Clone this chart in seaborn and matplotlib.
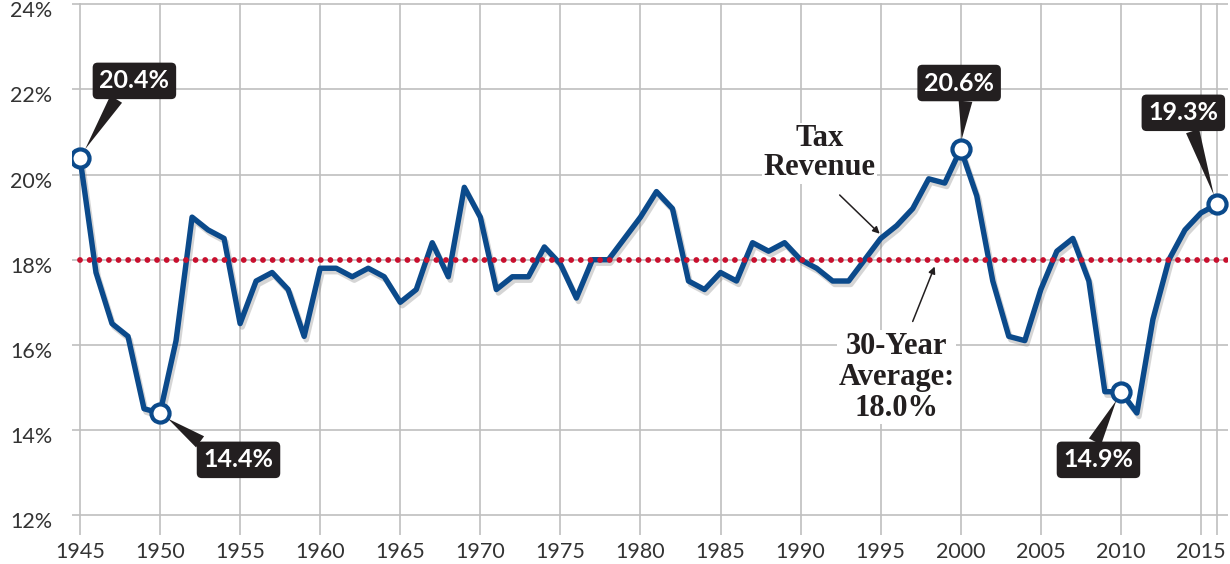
import matplotlib
matplotlib.use("Agg")
import matplotlib.pyplot as plt
import matplotlib.patheffects as pe
import matplotlib.transforms as mtransforms
import seaborn as sns
import pandas as pd

# Federal tax revenue as % of GDP
years = list(range(1945, 2017))
revenue = [20.4, 17.7, 16.5, 16.2, 14.5, 14.4, 16.1, 19.0, 18.7, 18.5,
           16.5, 17.5, 17.7, 17.3, 16.2, 17.8, 17.8, 17.6, 17.8, 17.6,
           17.0, 17.3, 18.4, 17.6, 19.7, 19.0, 17.3, 17.6, 17.6, 18.3,
           17.9, 17.1, 18.0, 18.0, 18.5, 19.0, 19.6, 19.2, 17.5, 17.3,
           17.7, 17.5, 18.4, 18.2, 18.4, 18.0, 17.8, 17.5, 17.5, 18.0,
           18.5, 18.8, 19.2, 19.9, 19.8, 20.6, 19.5, 17.5, 16.2, 16.1,
           17.3, 18.2, 18.5, 17.5, 14.9, 14.9, 14.4, 16.6, 18.0, 18.7,
           19.1, 19.3]
avg_30yr = 18.0
callout_years = [1945, 1950, 2000, 2010, 2016]
y_ticks = [12, 14, 16, 18, 20, 22, 24]
x_ticks = list(range(1945, 2016, 5))

# label box placement (data coords) and where the pointer leaves the box
callout_pos = [(1948.4, 22.2), (1954.9, 13.3), (1999.9, 22.15), (2008.6, 13.3), (2013.9, 21.45)]
callout_rel = [(0.3, 0.0), (0.08, 1.0), (0.6, 0.0), (0.4, 1.0), (0.6, 0.0)]

BLUE = "#0b4a8b"
RED = "#c8102e"
DARK = "#231f20"
GRID = "#bfbfbf"
TICK = "#333333"

sns.set_style("whitegrid")
plt.rcParams["font.family"] = ["Lato", "DejaVu Sans"]

df = pd.DataFrame({"year": years, "revenue": revenue})
lookup = dict(zip(years, revenue))
pts = pd.DataFrame({"year": callout_years, "revenue": [lookup[y] for y in callout_years]})

fig, ax = plt.subplots(figsize=(12.3, 5.64), dpi=100)
fig.subplots_adjust(left=0.0585, right=0.998, top=0.994, bottom=0.085)

xmin, xmax = 1944.5, 2016.66
ax.set_xlim(xmin, xmax)
ax.set_ylim(11.98, 24.02)

sns.lineplot(data=df, x="year", y="revenue", ax=ax, color=BLUE, lw=3.9, zorder=4,
             path_effects=[pe.SimpleLineShadow(offset=(1.5, -2.5), shadow_color="#777777", alpha=0.3),
                           pe.Normal()])

# 30-year average dotted line
ax.plot([years[0], xmax], [avg_30yr, avg_30yr], color=RED, lw=4.2,
        ls=(0, (0.001, 1.65)), dash_capstyle="round", zorder=5)

sns.scatterplot(data=pts, x="year", y="revenue", ax=ax, s=170, color="white",
                edgecolor=BLUE, linewidth=3.0, zorder=6)

for (yr, val), pos, rel in zip(pts.itertuples(index=False), callout_pos, callout_rel):
    ax.annotate(f"{val:.1f}%", xy=(yr, val), xytext=pos, ha="center", va="center",
                color="white", fontsize=18, fontweight="bold", zorder=7,
                bbox=dict(boxstyle="round,pad=0.27,rounding_size=0.2", fc=DARK, ec="none"),
                arrowprops=dict(arrowstyle="wedge,tail_width=0.55", fc=DARK, ec="none",
                                shrinkA=0, shrinkB=7, relpos=rel))

serif = ["Liberation Serif", "DejaVu Serif"]
ax.text(1991.2, 20.5, "Tax\nRevenue", family=serif, fontsize=22, fontweight="bold",
        ha="center", va="center", color=DARK, linespacing=1.02, zorder=3,
        bbox=dict(boxstyle="square,pad=0.05", fc="white", ec="none"))
ax.annotate("", xy=(1994.94, 18.61), xytext=(1992.44, 19.52),
            arrowprops=dict(arrowstyle="-|>", lw=1.1, color=DARK, mutation_scale=10,
                            shrinkA=0, shrinkB=0), zorder=3)

ax.text(1996.0, 15.24, f"30-Year\nAverage:\n{avg_30yr:.1f}%", family=serif, fontsize=22,
        fontweight="bold", ha="center", va="center", color=DARK, linespacing=1.1, zorder=3,
        bbox=dict(boxstyle="square,pad=0.05", fc="white", ec="none"))
ax.annotate("", xy=(1998.37, 17.84), xytext=(1997.0, 16.55),
            arrowprops=dict(arrowstyle="-|>", lw=1.1, color=DARK, mutation_scale=10,
                            shrinkA=0, shrinkB=0), zorder=3)

ax.set_xticks(x_ticks)
ax.set_xticks([2016], minor=True)
ax.set_yticks(y_ticks)
ax.set_yticklabels([f"{t}%" for t in y_ticks])
ax.grid(True, which="both", color=GRID, lw=1.2)
ax.set_axisbelow(True)
for s in ax.spines.values():
    s.set_visible(False)
ax.tick_params(axis="x", which="both", length=14, width=1.2, color=GRID, direction="out",
               pad=5, labelsize=15.5, labelcolor=TICK, bottom=True)
ax.tick_params(axis="x", which="minor", labelbottom=False)
ax.tick_params(axis="y", length=0, pad=14, labelsize=15.5, labelcolor=TICK)

# y labels sit a little below their gridlines in the original
shift = mtransforms.ScaledTranslation(0, -5 / 100, fig.dpi_scale_trans)
for lab in ax.get_yticklabels():
    lab.set_transform(lab.get_transform() + shift)
ax.set_xlabel("")
ax.set_ylabel("")

fig.savefig("out.png", dpi=100)
